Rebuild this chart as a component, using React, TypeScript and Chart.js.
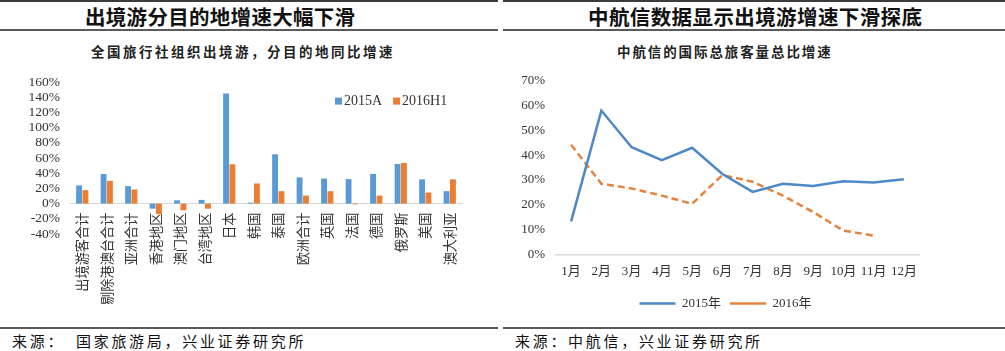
import React, { useEffect, useRef } from 'react';
import { Chart, registerables } from 'chart.js';

Chart.register(...registerables);

// ---- Left chart data ----
const destinations = ['出境游客合计', '剔除港澳台合计', '亚洲合计', '香港地区', '澳门地区', '台湾地区', '日本', '韩国', '泰国', '欧洲合计', '英国', '法国', '德国', '俄罗斯', '美国', '澳大利亚'];
const growth2015A = [24, 39, 23, -6.6, 4.4, 4.9, 145, 1.3, 65, 34.5, 33, 32.3, 39, 52.2, 31.9, 16.4];
const growth2016H1 = [17.7, 30, 18.6, -14, -8.8, -6.6, 51.8, 26.5, 16.4, 10.6, 16.4, -1, 10.6, 53.5, 14.6, 31.9];
const leftSeriesNames = ['2015A', '2016H1'];
const leftYMin = -40;
const leftYMax = 160;
const leftYStep = 20;

// ---- Right chart data ----
const months = ['1月', '2月', '3月', '4月', '5月', '6月', '7月', '8月', '9月', '10月', '11月', '12月'];
const pax2015 = [13.3, 58, 43.2, 38, 43, 32.4, 25.2, 28.5, 27.6, 29.5, 29, 30.3];
const pax2016 = [44.2, 28.5, 26.6, 23.7, 20.4, 32, 29.3, 23.7, 17.1, 9.6, 7.6, null];
const rightSeriesNames = ['2015年', '2016年'];
const rightYMin = 0;
const rightYMax = 70;
const rightYStep = 10;

const SERIF = "'Liberation Serif', 'Noto Sans CJK SC', serif";
const CJK = "'Noto Sans CJK SC', sans-serif";
const BLUE = '#5B9BD5';
const ORANGE = '#ED7D31';
const LINE_BLUE = '#4F88C6';
const LINE_ORANGE = '#E5843F';
const AXIS_GRAY = '#D9D9D9';
const TEXT = '#333333';

const barLegendPlugin = {
  id: 'barLegend',
  afterDraw(chart: any) {
    const { ctx, chartArea } = chart;
    ctx.save();
    ctx.font = `14px ${SERIF}`;
    ctx.textBaseline = 'middle';
    ctx.textAlign = 'left';
    let x = chartArea.left + 265;
    const y = chartArea.top + 19;
    chart.data.datasets.forEach((ds: any) => {
      ctx.fillStyle = ds.backgroundColor;
      ctx.fillRect(x, y - 3.5, 7, 7);
      ctx.fillStyle = TEXT;
      ctx.fillText(ds.label, x + 9, y);
      x += 9 + ctx.measureText(ds.label).width + 11;
    });
    ctx.restore();
  },
};

const shiftLegendPlugin = {
  id: 'shiftLegend',
  afterLayout(chart: any) {
    if (chart.legend) {
      chart.legend.left += 16;
      chart.legend.right += 16;
    }
  },
};

function LeftChart() {
  const ref = useRef<HTMLCanvasElement>(null);
  useEffect(() => {
    const chart = new Chart(ref.current!, {
      type: 'bar',
      data: {
        labels: destinations,
        datasets: [
          { label: leftSeriesNames[0], data: growth2015A, backgroundColor: BLUE, barPercentage: 0.92, categoryPercentage: 0.52 },
          { label: leftSeriesNames[1], data: growth2016H1, backgroundColor: ORANGE, barPercentage: 0.92, categoryPercentage: 0.52 },
        ],
      },
      options: {
        animation: false,
        responsive: false,
        maintainAspectRatio: false,
        layout: { padding: { top: 12, right: 33, bottom: 70, left: 0 } },
        plugins: { legend: { display: false }, tooltip: { enabled: false } },
        scales: {
          x: {
            type: 'category',
            position: { y: 0 } as any,
            grid: { display: false, drawTicks: false },
            border: { display: true, color: AXIS_GRAY, width: 1 },
            ticks: {
              autoSkip: false,
              minRotation: 90,
              maxRotation: 90,
              padding: 9,
              color: TEXT,
              font: { family: CJK, size: 13.2 },
            },
          },
          y: {
            min: leftYMin,
            max: leftYMax,
            grid: { display: false, drawTicks: false },
            border: { display: false },
            afterFit: (scale: any) => { scale.width = 70; },
            ticks: {
              autoSkip: false,
              stepSize: leftYStep,
              padding: 10,
              color: TEXT,
              font: { family: SERIF, size: 13.5 },
              callback: (v: any) => `${v}%`,
            },
          },
        },
      },
      plugins: [barLegendPlugin],
    });
    return () => chart.destroy();
  }, []);
  return <canvas ref={ref} width={495} height={240} style={{ position: 'absolute', left: 0, top: 64, width: 495, height: 240 }} />;
}

function RightChart() {
  const ref = useRef<HTMLCanvasElement>(null);
  useEffect(() => {
    const chart = new Chart(ref.current!, {
      type: 'line',
      data: {
        labels: months,
        datasets: [
          { label: rightSeriesNames[0], data: pax2015, borderColor: LINE_BLUE, backgroundColor: LINE_BLUE, borderWidth: 2.5, pointRadius: 0, tension: 0 },
          { label: rightSeriesNames[1], data: pax2016, borderColor: LINE_ORANGE, backgroundColor: LINE_ORANGE, borderWidth: 2.5, borderDash: [7, 4], pointRadius: 0, tension: 0 },
        ],
      },
      options: {
        animation: false,
        responsive: false,
        maintainAspectRatio: false,
        layout: { padding: { top: 12, right: 86, bottom: 0, left: 0 } },
        plugins: {
          tooltip: { enabled: false },
          legend: {
            position: 'bottom',
            labels: {
              usePointStyle: true,
              pointStyle: 'line',
              pointStyleWidth: 36,
              padding: 9,
              color: TEXT,
              font: { family: SERIF, size: 13 },
            },
          },
        },
        scales: {
          x: {
            type: 'category',
            offset: true,
            grid: { display: false, drawTicks: false },
            border: { display: true, color: AXIS_GRAY, width: 1.5 },
            ticks: { autoSkip: false, maxRotation: 0, padding: 9, color: TEXT, font: { family: SERIF, size: 13 } },
          },
          y: {
            min: rightYMin,
            max: rightYMax,
            grid: { display: false, drawTicks: false },
            border: { display: false },
            afterFit: (scale: any) => { scale.width = 56; },
            ticks: {
              autoSkip: false,
              stepSize: rightYStep,
              padding: 11,
              color: TEXT,
              font: { family: SERIF, size: 13 },
              callback: (v: any) => `${v}%`,
            },
          },
        },
      },
      plugins: [shiftLegendPlugin],
    });
    return () => chart.destroy();
  }, []);
  return <canvas ref={ref} width={505} height={258} style={{ position: 'absolute', left: 500, top: 62, width: 505, height: 258 }} />;
}

const rule = (left: number, top: number, width: number, height: number, color: string): React.CSSProperties => ({
  position: 'absolute', left, top, width, height, background: color,
});

const textStyle = (extra: React.CSSProperties): React.CSSProperties => ({
  position: 'absolute', whiteSpace: 'nowrap', color: '#111', fontFamily: CJK, lineHeight: 1, ...extra,
});

export default function App() {
  return (
    <div style={{ position: 'absolute', left: 0, top: 0, width: 1005, height: 351, background: '#fff', overflow: 'hidden' }}>
      {/* left panel rules */}
      <div style={rule(0, 0, 498, 2, '#3C3C3C')} />
      <div style={rule(0, 29, 498, 2, '#5A5A5A')} />
      <div style={rule(0, 327, 498, 2, '#5A5A5A')} />
      {/* right panel rules */}
      <div style={rule(503, 0, 502, 2, '#3C3C3C')} />
      <div style={rule(503, 29, 502, 2, '#5A5A5A')} />
      <div style={rule(503, 327, 502, 2, '#5A5A5A')} />

      <div style={textStyle({ left: 85, top: 6, fontSize: 20.5, fontWeight: 700, letterSpacing: 0.3 })}>出境游分目的地增速大幅下滑</div>
      <div style={textStyle({ left: 588, top: 6, fontSize: 20.5, fontWeight: 700, letterSpacing: 0.4 })}>中航信数据显示出境游增速下滑探底</div>

      <div style={textStyle({ left: 91, top: 45, fontSize: 13.5, fontWeight: 700, letterSpacing: 2.5, color: '#222' })}>全国旅行社组织出境游，分目的地同比增速</div>
      <div style={textStyle({ left: 617, top: 45, fontSize: 13.5, fontWeight: 700, letterSpacing: 1.9, color: '#222' })}>中航信的国际总旅客量总比增速</div>

      <LeftChart />
      <RightChart />

      <div style={textStyle({ left: 12, top: 333, fontSize: 15, letterSpacing: 2.7 })}>来源：</div>
      <div style={textStyle({ left: 76, top: 333, fontSize: 15, letterSpacing: 2.7 })}>国家旅游局，兴业证券研究所</div>
      <div style={textStyle({ left: 515, top: 333, fontSize: 15, letterSpacing: 2.7 })}>来源：中航信，兴业证券研究所</div>
    </div>
  );
}
